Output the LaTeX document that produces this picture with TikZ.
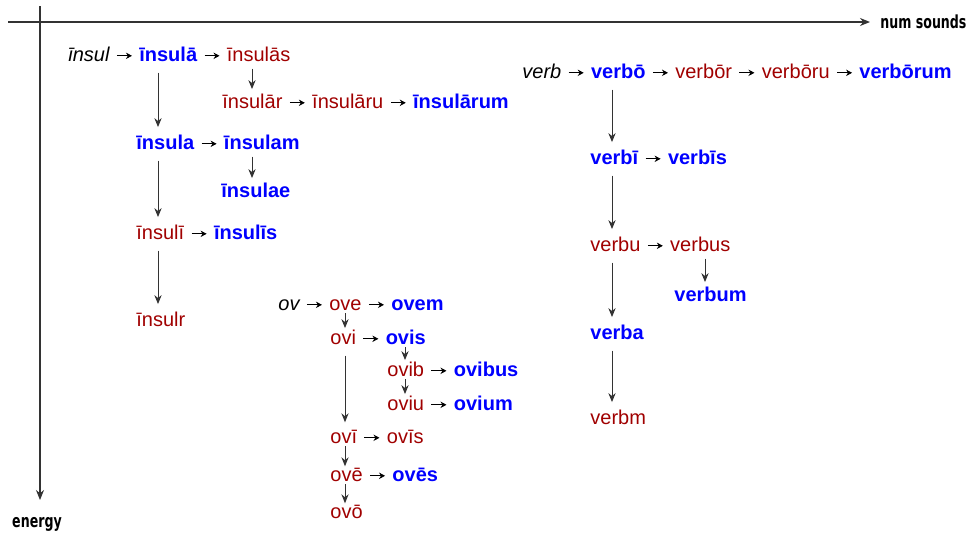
\documentclass[tikz,border=0pt]{standalone}
\usepackage{fontspec}
\setmainfont{Liberation Sans}
\newfontfamily\axisfont[FakeStretch=0.7]{DejaVu Sans}
\usepackage{tikz}
\usetikzlibrary{arrows.meta}
\usetikzlibrary{positioning}
\usetikzlibrary{calc}
\definecolor{formred}{RGB}{160,0,0}
\definecolor{formblue}{RGB}{0,0,255}
\definecolor{axisgray}{RGB}{51,51,51}
\tikzset{
    form/.style={inner sep=3.5pt},
    stem/.style={form, text=black, font=\itshape},
    weak/.style={form, text=formred},
    strong/.style={form, text=formblue, font=\bfseries},
    side/.style={draw=black, line width=0.4pt, -{Stealth[length=3pt,width=3.2pt]}},
    down/.style={draw=axisgray, line width=0.5pt, -{Stealth[length=4.5pt,width=3.6pt]}},
    axis/.style={draw=axisgray, line width=0.6pt, -{Stealth[length=5pt,width=4pt]}},
    axislabel/.style={inner sep=0pt, text=black, font=\axisfont\bfseries\fontsize{9}{11}\selectfont},
}

\begin{document}
\begin{tikzpicture}[x=0.5pt, y=-0.5pt, node distance=7.5pt]
	\useasboundingbox (0,0) rectangle (966,541);
	% axes
	\coordinate (xstart) at (8,22);
	\coordinate (xend) at (870,22);
	\coordinate (ystart) at (40,6);
	\coordinate (yend) at (40,500);
	\draw[axis] (xstart) -- (xend);
	\draw[axis] (ystart) -- (yend);
	\node[axislabel, anchor=west] (xlabel) at (880,22) {num sounds};
	\node[axislabel] (ylabel) at (37,524) {energy};
	%
	% columns of the downward arrows
	\coordinate (colinsul) at (158,0);
	\coordinate (colinsulas) at (252,0);
	\coordinate (colov) at (345,0);
	\coordinate (colovis) at (405,0);
	\coordinate (colverb) at (612,0);
	\coordinate (colverbus) at (705,0);
	%
	% insul
	\node[stem, anchor=base west] (insul) at (61,61) {īnsul};
	\node[strong, base right=of insul] (insulaa) {īnsulā};
	\node[weak, base right=of insulaa] (insulaas) {īnsulās};
	\node[weak, anchor=base west] (insulaar) at (215,108) {īnsulār};
	\node[weak, base right=of insulaar] (insulaaru) {īnsulāru};
	\node[strong, base right=of insulaaru] (insulaarum) {īnsulārum};
	\node[strong, anchor=base west] (insula) at (129,149) {īnsula};
	\node[strong, base right=of insula] (insulam) {īnsulam};
	\node[strong, anchor=base west] (insulae) at (214,197) {īnsulae};
	\node[weak, anchor=base west] (insulii) at (129,239) {īnsulī};
	\node[strong, base right=of insulii] (insuliis) {īnsulīs};
	\node[weak, anchor=base west] (insulr) at (129,326) {īnsulr};
	%
	% ov
	\node[stem, anchor=base west] (ov) at (271,310) {ov};
	\node[weak, base right=of ov] (ove) {ove};
	\node[strong, base right=of ove] (ovem) {ovem};
	\node[weak, anchor=base west] (ovi) at (323,344) {ovi};
	\node[strong, base right=of ovi] (ovis) {ovis};
	\node[weak, anchor=base west] (ovib) at (380,376) {ovib};
	\node[strong, base right=of ovib] (ovibus) {ovibus};
	\node[weak, anchor=base west] (oviu) at (380,410) {oviu};
	\node[strong, base right=of oviu] (ovium) {ovium};
	\node[weak, anchor=base west] (ovii) at (323,443) {ovī};
	\node[weak, base right=of ovii] (oviis) {ovīs};
	\node[weak, anchor=base west] (ovee) at (323,481) {ovē};
	\node[strong, base right=of ovee] (ovees) {ovēs};
	\node[weak, anchor=base west] (ovoo) at (323,518) {ovō};
	%
	% verb
	\node[stem, anchor=base west] (verb) at (515,78) {verb};
	\node[strong, base right=of verb] (verboo) {verbō};
	\node[weak, base right=of verboo] (verboor) {verbōr};
	\node[weak, base right=of verboor] (verbooru) {verbōru};
	\node[strong, base right=of verbooru] (verboorum) {verbōrum};
	\node[strong, anchor=base west] (verbii) at (583,164) {verbī};
	\node[strong, base right=of verbii] (verbiis) {verbīs};
	\node[weak, anchor=base west] (verbu) at (583,251) {verbu};
	\node[weak, base right=of verbu] (verbus) {verbus};
	\node[strong, anchor=base west] (verbum) at (667,301) {verbum};
	\node[strong, anchor=base west] (verba) at (583,339) {verba};
	\node[weak, anchor=base west] (verbm) at (583,424) {verbm};
	%
	% arrows
	\foreach \a/\b in {insul/insulaa, insulaa/insulaas, insulaar/insulaaru,
		insulaaru/insulaarum, insula/insulam, insulii/insuliis,
		ov/ove, ove/ovem, ovi/ovis, ovib/ovibus, oviu/ovium, ovii/oviis, ovee/ovees,
		verb/verboo, verboo/verboor, verboor/verbooru, verbooru/verboorum,
		verbii/verbiis, verbu/verbus}
		\draw[side] ([yshift=2.6pt]\a.base east) -- ([yshift=2.6pt]\b.base west);
	% long ones
	\foreach \a/\b/\c in {insulaa/insula/colinsul, insula/insulii/colinsul,
		insulii/insulr/colinsul,
		ovi/ovii/colov,
		verboo/verbii/colverb, verbii/verbu/colverb, verbu/verba/colverb,
		verba/verbm/colverb}
		\draw[down, shorten <=2pt] (\a.south -| \c) -- (\b.north -| \c);
	% short ones
	\foreach \a/\b/\c in {insulaas/insulaar/colinsulas, insulam/insulae/colinsulas,
		verbus/verbum/colverbus}
		\draw[down] (\a.south -| \c) -- ($(\b.north -| \c)+(0,3)$);
	\foreach \a/\b/\c in {ove/ovi/colov, ovii/ovee/colov, ovee/ovoo/colov,
		ovis/ovib/colovis, ovib/oviu/colovis}
		\draw[down] ($(\a.base -| \c)+(0,3)$) -- ($(\b.north -| \c)+(0,6)$);
\end{tikzpicture}
\end{document}
